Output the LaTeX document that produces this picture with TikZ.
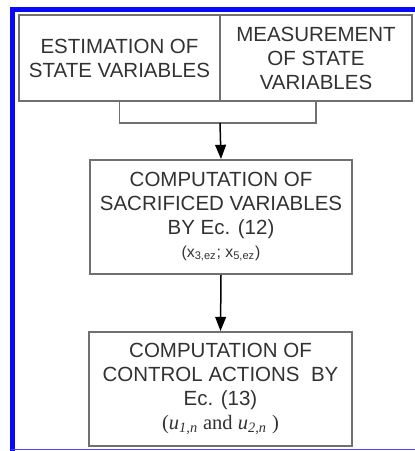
\documentclass[tikz,border=0pt]{standalone}
\usepackage{fontspec}
\setmainfont{Liberation Sans}
\newfontfamily\serifrm{Liberation Serif}
\usetikzlibrary{arrows.meta,positioning}
\definecolor{frameblue}{RGB}{10,10,250}
\definecolor{boxgray}{RGB}{112,112,112}
\definecolor{txtgray}{RGB}{50,50,50}
\tikzset{
  box/.style={draw=boxgray, line width=1.2pt, inner sep=0pt, align=center,
    text=txtgray, font=\fontsize{12.3}{14.4}\selectfont},
  flow/.style={-{Triangle[length=8.5pt,width=6.5pt]}, line width=0.9pt},
}
\newcommand{\subsm}[1]{{\fontsize{9.5}{10}\selectfont #1}}

\begin{document}
\begin{tikzpicture}[x=0.6pt, y=-0.6pt]
        \useasboundingbox (0,0) rectangle (415,451);
        % frame
        \draw[frameblue, line width=3pt] (12.5,451) -- (12.5,9.5) -- (415,9.5);
        \draw[frameblue!75, line width=0.9pt] (11,449.5) -- (415,449.5);
        % top pair of boxes
        \node[box, minimum width=120.6pt, minimum height=51.6pt] (est) at (119.5,58)
          {ESTIMATION OF\\STATE VARIABLES};
        \node[box, minimum width=115.2pt, minimum height=51.6pt] (meas) at (316,58)
          {MEASUREMENT\\OF STATE\\VARIABLES};
        % lower boxes
        \node[box, minimum width=157.2pt, minimum height=68.4pt] (sacr) at (221,217)
          {COMPUTATION OF\\SACRIFICED VARIABLES\\BY Ec. (12)\\[-1pt]
           \subsm{(x\textsubscript{3,ez}; x\textsubscript{5,ez})}};
        \node[box, minimum width=157.8pt, minimum height=68.4pt] (ctrl) at (220.5,389)
          {COMPUTATION OF\\CONTROL ACTIONS\ \ BY\\Ec. (13)\\
           {\serifrm (\textit{u}\textsubscript{\textit{1,n}} and \textit{u}\textsubscript{\textit{2,n}} )}};
        % connectors
        \coordinate (join) at (220,123);
        \draw[boxgray, line width=1.1pt] (est.south) |- (join) -| (meas.south);
        \draw[flow] (join) -- (sacr.north);
        \draw[flow] (sacr.south) -- (ctrl.north);
      \end{tikzpicture}
\end{document}
